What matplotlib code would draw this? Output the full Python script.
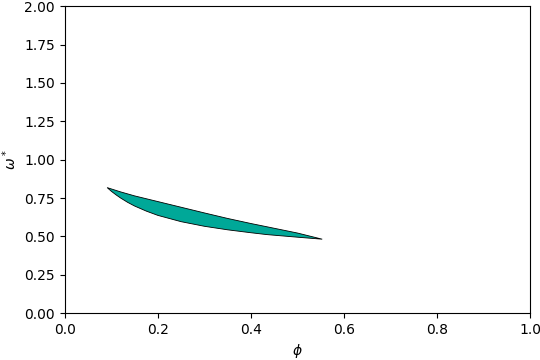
import numpy as np
import matplotlib
matplotlib.use('Agg')
import matplotlib.pyplot as plt

# upper boundary of the region
phi_upper = [0.091, 0.12, 0.15, 0.20, 0.25, 0.30, 0.35, 0.40, 0.434, 0.50, 0.553]
omega_upper = [0.818, 0.790, 0.764, 0.727, 0.690, 0.653, 0.617, 0.584, 0.563, 0.522, 0.482]

# lower boundary of the region
phi_lower = [0.091, 0.10, 0.11, 0.12, 0.135, 0.15, 0.175, 0.20, 0.25, 0.30,
             0.35, 0.40, 0.434, 0.50, 0.553]
omega_lower = [0.818, 0.794, 0.771, 0.750, 0.722, 0.698, 0.665, 0.637, 0.596, 0.566,
               0.543, 0.524, 0.512, 0.495, 0.482]

fig, ax = plt.subplots(figsize=(5.4, 3.6), dpi=100)

xs = np.concatenate([phi_upper, phi_lower[::-1]])
ys = np.concatenate([omega_upper, omega_lower[::-1]])
ax.fill(xs, ys, facecolor='#00a898', edgecolor='black', linewidth=0.6)

ax.set_xlim(0, 1)
ax.set_ylim(0, 2)
ax.set_xlabel(r'$\phi$')
ax.set_ylabel(r'$\omega^*$')

fig.subplots_adjust(left=0.12, right=0.982, top=0.983, bottom=0.13)
fig.savefig('out.png')
